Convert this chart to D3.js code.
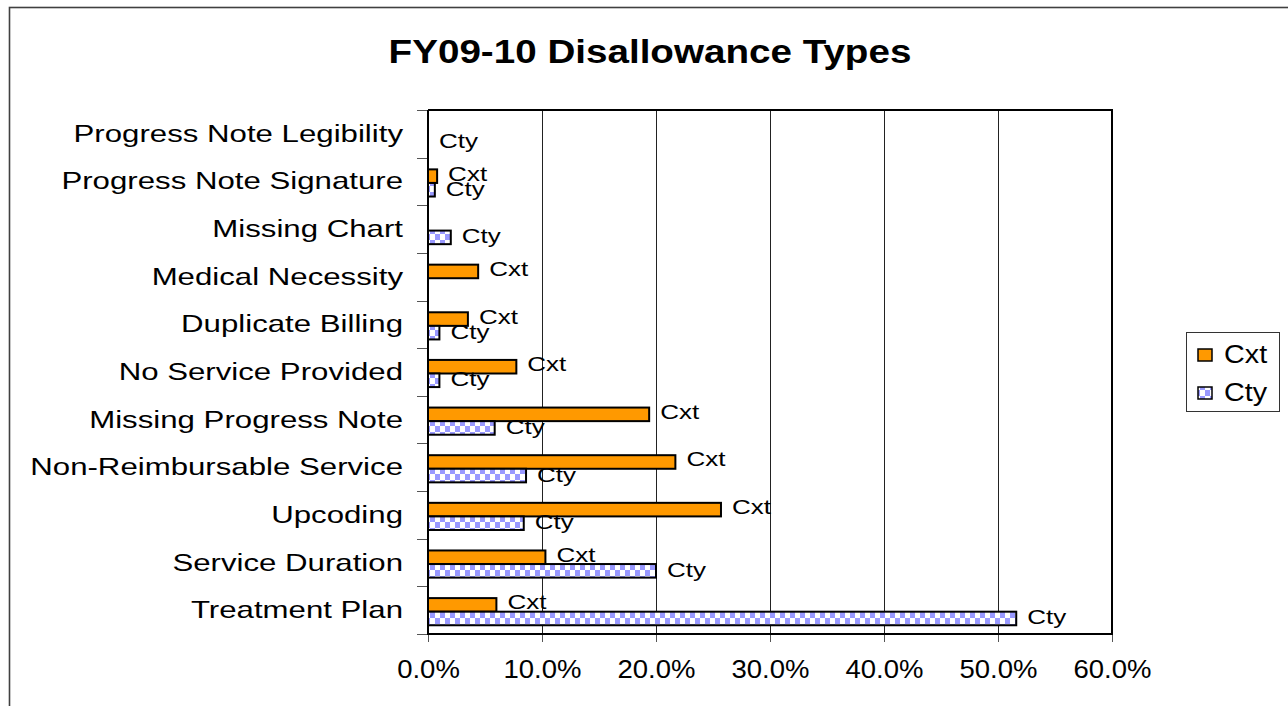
<!DOCTYPE html>
<html>
<head>
<meta charset="utf-8">
<script src="https://cdn.jsdelivr.net/npm/d3@7"></script>
<style>
  html, body { margin: 0; padding: 0; background: #fff; }
  svg { display: block; font-family: "Liberation Sans", Arial, sans-serif; }
</style>
</head>
<body>
<svg id="chart" width="1288" height="706"></svg>
<script>
const title = "FY09-10 Disallowance Types";
const categories = [
  "Progress Note Legibility", "Progress Note Signature", "Missing Chart",
  "Medical Necessity", "Duplicate Billing", "No Service Provided",
  "Missing Progress Note", "Non-Reimbursable Service", "Upcoding",
  "Service Duration", "Treatment Plan"
];
const seriesNames = ["Cxt", "Cty"];
const cxtValues = [null, 0.8, null, 4.4, 3.5, 7.75, 19.4, 21.7, 25.7, 10.3, 6.0];
const ctyValues = [0, 0.6, 2.0, null, 1.0, 1.0, 5.85, 8.6, 8.4, 20.0, 51.6];
const xTicks = [0, 10, 20, 30, 40, 50, 60];

const svg = d3.select("#chart");
const W = 1288, H = 706;
const plot = { left: 428, right: 1112, top: 110, bottom: 634 };

// pattern for Cty
const defs = svg.append("defs");
const pat = defs.append("pattern").attr("id", "checker").attr("patternUnits", "userSpaceOnUse")
  .attr("width", 10).attr("height", 12);
pat.append("rect").attr("width", 10).attr("height", 12).attr("fill", "#fff");
pat.append("rect").attr("x", 0).attr("y", 0).attr("width", 5).attr("height", 6).attr("fill", "#9999ff");
pat.append("rect").attr("x", 5).attr("y", 6).attr("width", 5).attr("height", 6).attr("fill", "#9999ff");

// outer border
svg.append("rect").attr("x", 9.5).attr("y", 7.5).attr("width", W + 20).attr("height", H + 20)
  .attr("fill", "#fff").attr("stroke", "#404040").attr("stroke-width", 1.6);

function stext(sel, x, y, sx) {
  return sel.attr("transform", `translate(${x},${y}) scale(${sx},1)`);
}

// title
stext(svg.append("text"), 650, 63, 1.17)
  .attr("text-anchor", "middle").attr("font-size", 33).attr("font-weight", "bold")
  .attr("fill", "#000").text(title);

const x = d3.scaleLinear().domain([0, 60]).range([plot.left, plot.right]);
const y = d3.scaleBand().domain(categories).range([plot.top, plot.bottom]).padding(0);

// gridlines
svg.append("g").selectAll("line").data(xTicks.filter(t => t > 0 && t < 60)).join("line")
  .attr("x1", d => x(d) + 0.5).attr("x2", d => x(d) + 0.5)
  .attr("y1", plot.top).attr("y2", plot.bottom)
  .attr("stroke", "#222").attr("stroke-width", 1);

// x axis ticks and labels
const xAxis = d3.axisBottom(x).tickValues(xTicks).tickSize(8).tickFormat(d => d.toFixed(1) + "%");
const gx = svg.append("g").attr("transform", `translate(0,${plot.bottom})`).call(xAxis);
gx.select(".domain").remove();
gx.selectAll(".tick line").attr("stroke", "#555").attr("stroke-width", 1);
gx.selectAll(".tick text").each(function(d) {
  const t = d3.select(this);
  t.attr("y", null).attr("dy", null).attr("x", null);
  stext(t, 0, 44, 1.1).attr("font-size", 25).attr("fill", "#000")
    .attr("font-family", "Liberation Sans, Arial, sans-serif");
});

// y axis ticks at band boundaries
const bounds = categories.map(c => y(c)).concat([plot.bottom]);
svg.append("g").selectAll("line").data(bounds).join("line")
  .attr("x1", plot.left - 11).attr("x2", plot.left)
  .attr("y1", d => Math.round(d) + 0.5).attr("y2", d => Math.round(d) + 0.5)
  .attr("stroke", "#555").attr("stroke-width", 1);

// category labels
svg.append("g").selectAll("text").data(categories).join("text")
  .each(function(d) {
    stext(d3.select(this), 403, y(d) + y.bandwidth() / 2 + 8, 1.3);
  })
  .attr("text-anchor", "end").attr("font-size", 24).attr("fill", "#000").text(d => d);

// bars
const bw = y.bandwidth();
const barH = bw * 0.285;
const rows = categories.map((c, i) => ({ c, i, cxt: cxtValues[i], cty: ctyValues[i] }));
const gb = svg.append("g");
rows.forEach(r => {
  const mid = y(r.c) + bw / 2 + 1.5;
  if (r.cxt !== null) {
    gb.append("rect").attr("x", x(0)).attr("y", mid - barH)
      .attr("width", x(r.cxt) - x(0)).attr("height", barH)
      .attr("fill", "#ff9900").attr("stroke", "#000").attr("stroke-width", 2);
    stext(gb.append("text"), x(r.cxt) + 11, mid - barH / 2 + 4.5, 1.3)
      .attr("font-size", 20).attr("fill", "#000").text(seriesNames[0]);
  }
  if (r.cty !== null) {
    if (r.cty > 0) {
      gb.append("rect").attr("x", x(0)).attr("y", mid)
        .attr("width", x(r.cty) - x(0)).attr("height", barH)
        .attr("fill", "url(#checker)").attr("stroke", "#000").attr("stroke-width", 2);
    }
    stext(gb.append("text"), x(r.cty) + 11, mid + barH / 2 + 6, 1.3)
      .attr("font-size", 20).attr("fill", "#000").text(seriesNames[1]);
  }
});

// plot frame: left axis, bottom axis, top, right
const frame = svg.append("g").attr("stroke", "#000").attr("stroke-width", 2).attr("fill", "none");
frame.append("line").attr("x1", plot.left).attr("x2", plot.left).attr("y1", plot.top).attr("y2", plot.bottom + 1);
frame.append("line").attr("x1", plot.left - 1).attr("x2", plot.right + 1).attr("y1", plot.bottom).attr("y2", plot.bottom);
frame.append("line").attr("x1", plot.left).attr("x2", plot.right + 1).attr("y1", plot.top).attr("y2", plot.top);
frame.append("line").attr("x1", plot.right).attr("x2", plot.right).attr("y1", plot.top).attr("y2", plot.bottom);

// legend
const lg = svg.append("g");
lg.append("rect").attr("x", 1186.5).attr("y", 332.5).attr("width", 93).attr("height", 79)
  .attr("fill", "#fff").attr("stroke", "#333").attr("stroke-width", 1);
const legFills = ["#ff9900", "url(#checker)"];
seriesNames.forEach((s, i) => {
  const cy = 355 + i * 38;
  lg.append("rect").attr("x", 1198).attr("y", cy - 6).attr("width", 14).attr("height", 12)
    .attr("fill", legFills[i]).attr("stroke", "#000").attr("stroke-width", 1.5);
  stext(lg.append("text"), 1224, cy + 8, 1.15).attr("font-size", 25).attr("fill", "#000").text(s);
});
</script>
</body>
</html>
